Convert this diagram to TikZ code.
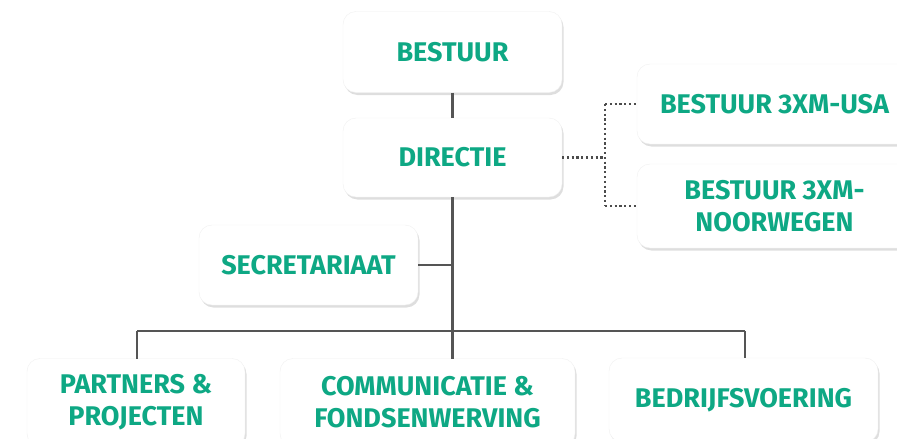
\documentclass[tikz,border=0pt]{standalone}
\usepackage{fontspec}
\setmainfont{Fira Sans}
\usetikzlibrary{shadows}
\definecolor{txtgreen}{RGB}{14,168,132}
\definecolor{linegray}{RGB}{85,85,85}
\begin{document}
\begin{tikzpicture}[x=1pt,y=-1pt,
  orgbox/.style={rounded corners=13pt, fill=white, draw=black!6, line width=0.4pt,
    drop shadow={shadow xshift=1.5pt, shadow yshift=-2.5pt, opacity=0.13, fill=black},
    text=txtgreen, font=\fontsize{27}{32}\selectfont\bfseries, align=center,
    inner sep=0pt, outer sep=0pt},
  solidline/.style={draw=linegray, line width=2.4pt},
  dotline/.style={draw=black!70, line width=2.4pt, dash pattern=on 2.2pt off 2.6pt}]
\useasboundingbox (0,0) rectangle (897,439);
\fill[white] (0,0) rectangle (897,439);
% nodes
\node[orgbox, minimum width=219pt, minimum height=81pt] (bestuur) at (452.5,52) {BESTUUR};
\node[orgbox, minimum width=219pt, minimum height=79pt] (directie) at (452.5,157.5) {DIRECTIE};
\node[orgbox, minimum width=275pt, minimum height=80pt] (usa) at (774.5,104) {BESTUUR 3XM-USA};
\node[orgbox, minimum width=275pt, minimum height=84pt] (noor) at (774.5,206) {BESTUUR 3XM-\\NOORWEGEN};
\node[orgbox, minimum width=219pt, minimum height=80pt] (secr) at (308.5,265) {SECRETARIAAT};
\node[orgbox, minimum width=218pt, minimum height=88pt] (partners) at (136,402.5) {PARTNERS \&\\PROJECTEN};
\node[orgbox, minimum width=295pt, minimum height=88pt] (comm) at (427.5,402.5) {COMMUNICATIE \&\\FONDSENWERVING};
\node[orgbox, minimum width=269pt, minimum height=84pt] (bedr) at (743.5,400) {BEDRIJFSVOERING};
% coordinates
\coordinate (bus) at (452.5,331);
\coordinate (busL) at (137,331);
\coordinate (busR) at (745,331);
\coordinate (dotJ) at (605,157.5);
% connectors
\draw[solidline] (bestuur.south) -- (directie.north);
\draw[solidline] (directie.south) -- (bus);
\draw[solidline] (secr.east) -- (secr.east -| bus);
\draw[solidline] (busL) -- (busR);
\draw[solidline] (busL) -- (busL |- partners.north);
\draw[solidline] (bus) -- (comm.north -| bus);
\draw[solidline] (busR) -- (busR |- bedr.north);
\draw[dotline] (directie.east) -- (dotJ);
\draw[dotline] (usa.west -| dotJ) -- (noor.west -| dotJ);
\draw[dotline] (usa.west -| dotJ) -- (usa.west);
\draw[dotline] (noor.west -| dotJ) -- (noor.west);
\end{tikzpicture}
\end{document}
